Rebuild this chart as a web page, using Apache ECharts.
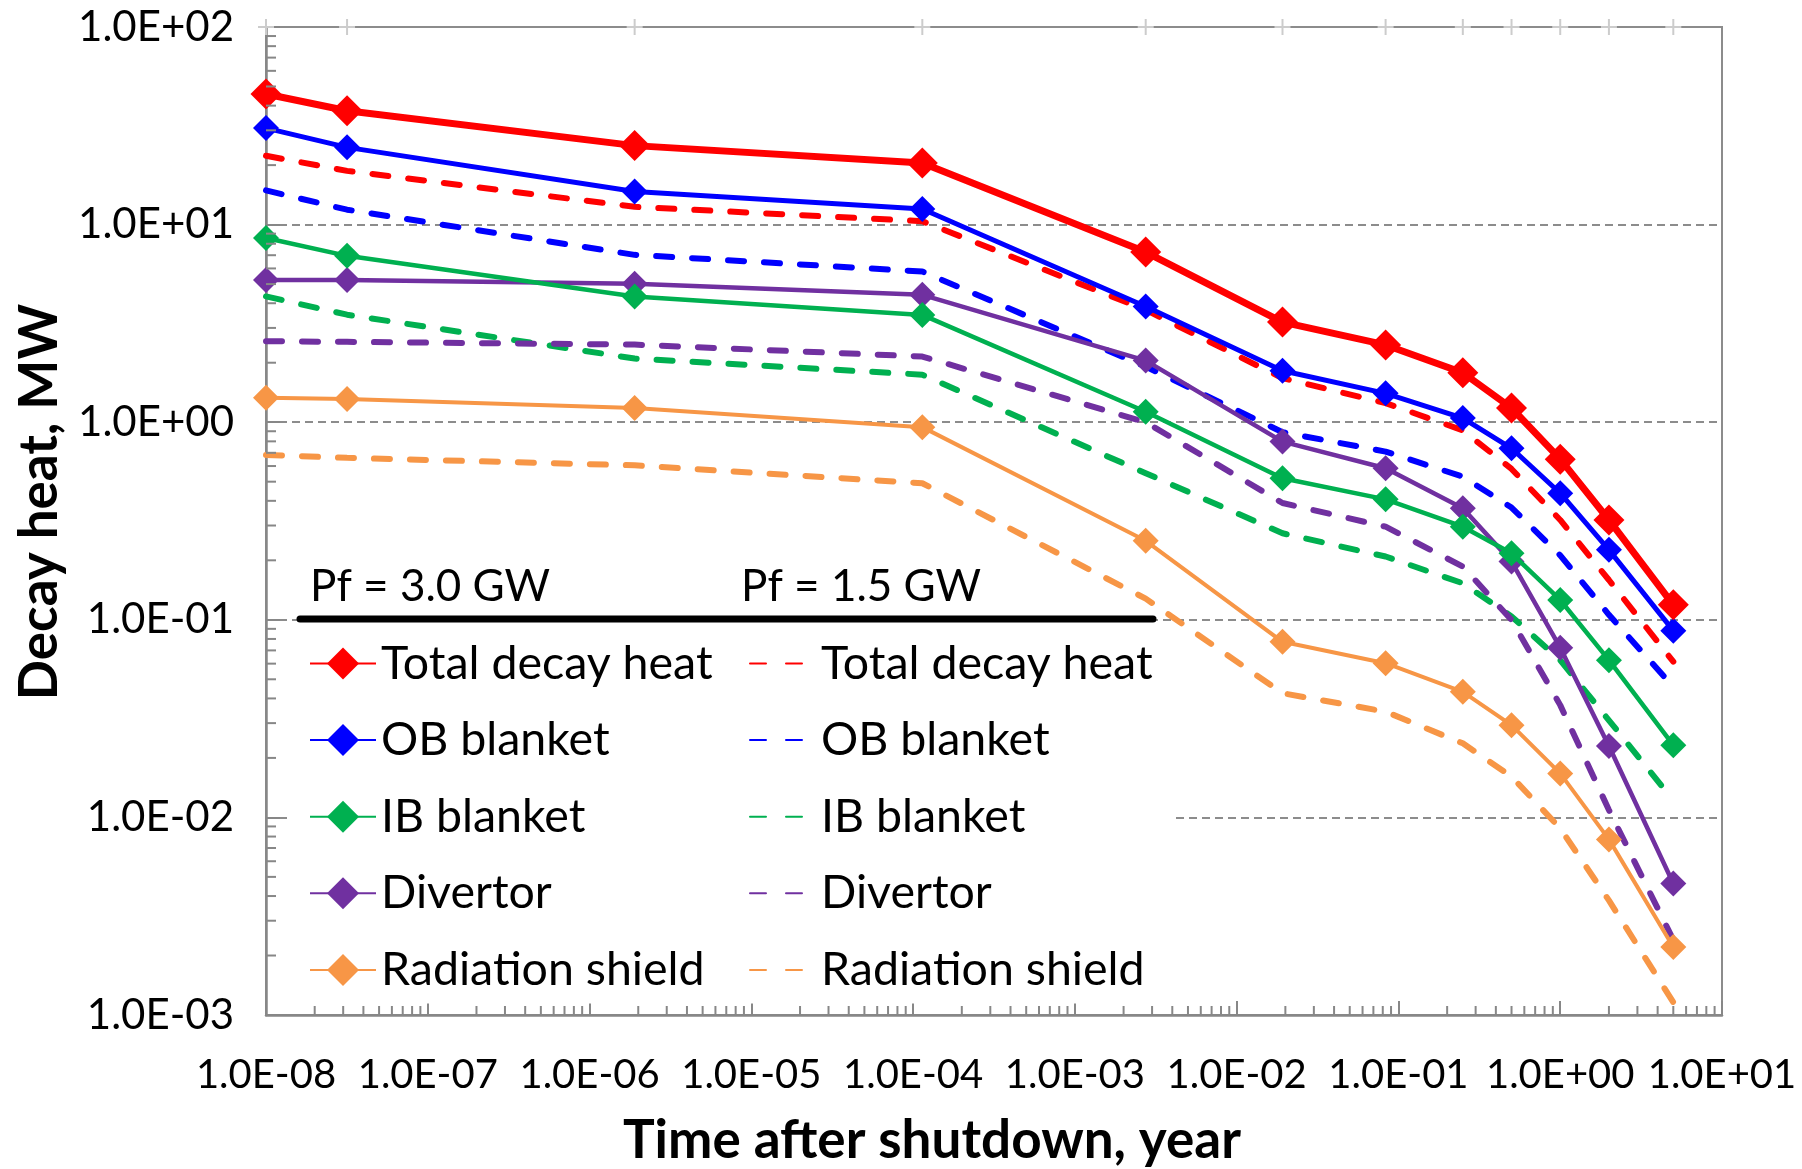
<!DOCTYPE html>
<html>
<head>
<meta charset="utf-8">
<script src="https://cdn.jsdelivr.net/npm/echarts@6/dist/echarts.min.js"></script>
<style>html,body{margin:0;padding:0;background:#fff}#chart{width:1802px;height:1169px}</style>
</head>
<body>
<div id="chart"></div>
<script>
// Time after shutdown (years): ~0, 1 s, 1 min, 1 h, 1 d, 1 wk, 1 mo, 3 mo, 6 mo, 1 y, 2 y, 5 y
const timeYears = [1e-8, 3.17e-8, 1.90e-6, 1.14e-4, 2.74e-3, 1.92e-2, 8.33e-2, 0.25, 0.5, 1, 2, 5];

const seriesNames = ['Total decay heat', 'OB blanket', 'IB blanket', 'Divertor', 'Radiation shield'];
const seriesColors = ['#FF0000', '#0000FF', '#00B050', '#7030A0', '#F79646'];

// Pf = 3.0 GW (solid, diamonds)
const total30 = [45.8, 37.7, 25.1, 20.5, 7.26, 3.21, 2.46, 1.78, 1.18, 0.650, 0.320, 0.119];
const ob30    = [30.8, 24.6, 14.7, 12.0, 3.85, 1.82, 1.40, 1.05, 0.738, 0.437, 0.226, 0.0881];
const ib30    = [8.55, 6.95, 4.33, 3.49, 1.13, 0.520, 0.407, 0.296, 0.217, 0.126, 0.0625, 0.0232];
const div30   = [5.25, 5.25, 5.02, 4.41, 2.05, 0.798, 0.585, 0.367, 0.197, 0.0723, 0.0230, 0.00463];
const rs30    = [1.33, 1.31, 1.18, 0.944, 0.251, 0.0774, 0.0603, 0.0432, 0.0293, 0.0167, 0.00774, 0.00221];

// Pf = 1.5 GW (dashed)
const total15 = [22.3, 18.7, 12.3, 10.4, 3.70, 1.67, 1.25, 0.91, 0.58, 0.32, 0.159, 0.0614];
const ob15    = [14.9, 11.9, 7.03, 5.79, 1.91, 0.89, 0.71, 0.53, 0.37, 0.212, 0.106, 0.0458];
const ib15    = [4.33, 3.50, 2.10, 1.74, 0.552, 0.274, 0.209, 0.153, 0.104, 0.0625, 0.031, 0.0122];
const div15   = [2.57, 2.55, 2.47, 2.15, 1.00, 0.39, 0.296, 0.186, 0.0998, 0.037, 0.0109, 0.0024];
const rs15    = [0.683, 0.66, 0.605, 0.491, 0.128, 0.0425, 0.0343, 0.0237, 0.0161, 0.0088, 0.0038, 0.00116];

const xTickLabels = ['1.0E-08','1.0E-07','1.0E-06','1.0E-05','1.0E-04','1.0E-03','1.0E-02','1.0E-01','1.0E+00','1.0E+01'];
const yTickLabels = ['1.0E-03','1.0E-02','1.0E-01','1.0E+00','1.0E+01','1.0E+02'];

const yTitle = 'Decay heat, MW';
const xTitle = 'Time after shutdown, year';
const groupLabels = ['Pf = 3.0 GW', 'Pf = 1.5 GW'];
const suffix15 = ' (1.5 GW)';

const FONT = 'Lato, "Liberation Sans", sans-serif';

const data30 = [total30, ob30, ib30, div30, rs30];
const data15 = [total15, ob15, ib15, div15, rs15];
const solidWidths = [7, 5, 4.5, 4.5, 4];
const solidSymbolSizes = [31, 26, 26, 26, 26];

const pairs = arr => timeYears.map((t, i) => [t, arr[i]]);

const minorY = [];
for (let e = -3; e <= 1; e++) for (let k = 2; k <= 9; k++) minorY.push(k * Math.pow(10, e));
const minorX = [];
for (let e = -8; e <= 0; e++) for (let k = 2; k <= 9; k++) minorX.push(k * Math.pow(10, e));

const series = [];
// top-edge light gray crosses at the data times
series.push({
  type: 'custom', name: '_cross', silent: true, z: 1, clip: false,
  data: timeYears.map(t => [t, 100]),
  renderItem: (params, api) => {
    const p = api.coord([api.value(0), api.value(1)]);
    return { type: 'group', children: [
      { type: 'line', shape: { x1: p[0] - 8, y1: p[1], x2: p[0] + 8, y2: p[1] }, style: { stroke: '#cccccc', lineWidth: 2 } },
      { type: 'line', shape: { x1: p[0], y1: p[1] - 8, x2: p[0], y2: p[1] + 8 }, style: { stroke: '#cccccc', lineWidth: 2 } }
    ]};
  }
});
// minor ticks
series.push({
  type: 'custom', name: '_yminor', silent: true, z: 5, clip: false,
  data: minorY.map(v => [1e-8, v]),
  renderItem: (params, api) => {
    const p = api.coord([api.value(0), api.value(1)]);
    return { type: 'line', shape: { x1: p[0], y1: p[1], x2: p[0] + 10, y2: p[1] }, style: { stroke: '#878787', lineWidth: 2 } };
  }
});
series.push({
  type: 'custom', name: '_xminor', silent: true, z: 5, clip: false,
  data: minorX.map(v => [v, 1e-3]),
  renderItem: (params, api) => {
    const p = api.coord([api.value(0), api.value(1)]);
    return { type: 'line', shape: { x1: p[0], y1: p[1], x2: p[0], y2: p[1] - 9 }, style: { stroke: '#878787', lineWidth: 2 } };
  }
});

seriesNames.forEach((n, i) => {
  series.push({
    name: n + suffix15, type: 'line', data: pairs(data15[i]), symbol: 'none', z: 2,
    lineStyle: { color: seriesColors[i], width: 6, type: [16, 20], cap: 'round' },
    itemStyle: { color: seriesColors[i] }
  });
});
seriesNames.forEach((n, i) => {
  series.push({
    name: n, type: 'line', data: pairs(data30[i]), symbol: 'diamond', symbolSize: solidSymbolSizes[i], z: 3 + (5 - i) * 0.01,
    lineStyle: { color: seriesColors[i], width: solidWidths[i] },
    itemStyle: { color: seriesColors[i] }
  });
});

const legendCommon = {
  orient: 'vertical', top: 625, itemGap: 29.6, itemWidth: 66, itemHeight: 40,
  backgroundColor: '#ffffff', selectedMode: false, z: 6,
  textStyle: { fontSize: 46.5, lineHeight: 45, fontFamily: FONT, color: '#000' }
};

const chart = echarts.init(document.getElementById('chart'), null, { renderer: 'canvas' });
chart.setOption({
  animation: false,
  backgroundColor: '#ffffff',
  grid: { left: 266, right: 80, top: 27, bottom: 154, show: true, borderColor: '#8c8c8c', borderWidth: 2, outerBoundsMode: 'none' },
  xAxis: {
    type: 'log', logBase: 10, min: 1e-8, max: 10, splitNumber: 9,
    axisLine: { show: true, lineStyle: { color: '#878787', width: 2.5 } },
    axisTick: { show: true, inside: true, length: 14, lineStyle: { color: '#878787', width: 2 } },
    axisLabel: { fontSize: 40, fontFamily: FONT, color: '#000', margin: 40,
      formatter: v => xTickLabels[Math.round(Math.log10(v)) + 8] },
    splitLine: { show: false }
  },
  yAxis: {
    type: 'log', logBase: 10, min: 0.001, max: 100, splitNumber: 5,
    axisLine: { show: true, lineStyle: { color: '#878787', width: 2.5 } },
    axisTick: { show: true, inside: true, length: 14, lineStyle: { color: '#878787', width: 2 } },
    axisLabel: { fontSize: 42, fontFamily: FONT, color: '#000', margin: 32,
      formatter: v => yTickLabels[Math.round(Math.log10(v)) + 3] },
    splitLine: { show: true, lineStyle: { color: '#8c8c8c', width: 1.8, type: [8, 5] } }
  },
  legend: [
    Object.assign({}, legendCommon, { left: 292, padding: [15, 30, 10, 17], data: seriesNames }),
    Object.assign({}, legendCommon, { left: 745, padding: [15, 20, 10, 4],
      data: seriesNames.map(n => n + suffix15),
      formatter: name => name.replace(suffix15, ''),
      itemStyle: { opacity: 0 } })
  ],
  graphic: [
    { type: 'text', x: 310, y: 587, z: 20, style: { text: groupLabels[0], fontSize: 44, fontFamily: FONT, fill: '#000', align: 'left', verticalAlign: 'middle' } },
    { type: 'text', x: 741, y: 587, z: 20, style: { text: groupLabels[1], fontSize: 44, fontFamily: FONT, fill: '#000', align: 'left', verticalAlign: 'middle' } },
    { type: 'line', z: 20, shape: { x1: 300, y1: 619, x2: 1153, y2: 619 }, style: { stroke: '#000', lineWidth: 7, lineCap: 'round' } },
    { type: 'text', x: 40, y: 502, rotation: Math.PI / 2, z: 20, style: { text: yTitle, fontSize: 53, fontWeight: 'bold', fontFamily: FONT, fill: '#000', align: 'center', verticalAlign: 'middle' } },
    { type: 'text', x: 932, y: 1141, z: 20, style: { text: xTitle, fontSize: 53, fontWeight: 'bold', fontFamily: FONT, fill: '#000', align: 'center', verticalAlign: 'middle' } }
  ],
  series: series
});
</script>
</body>
</html>
